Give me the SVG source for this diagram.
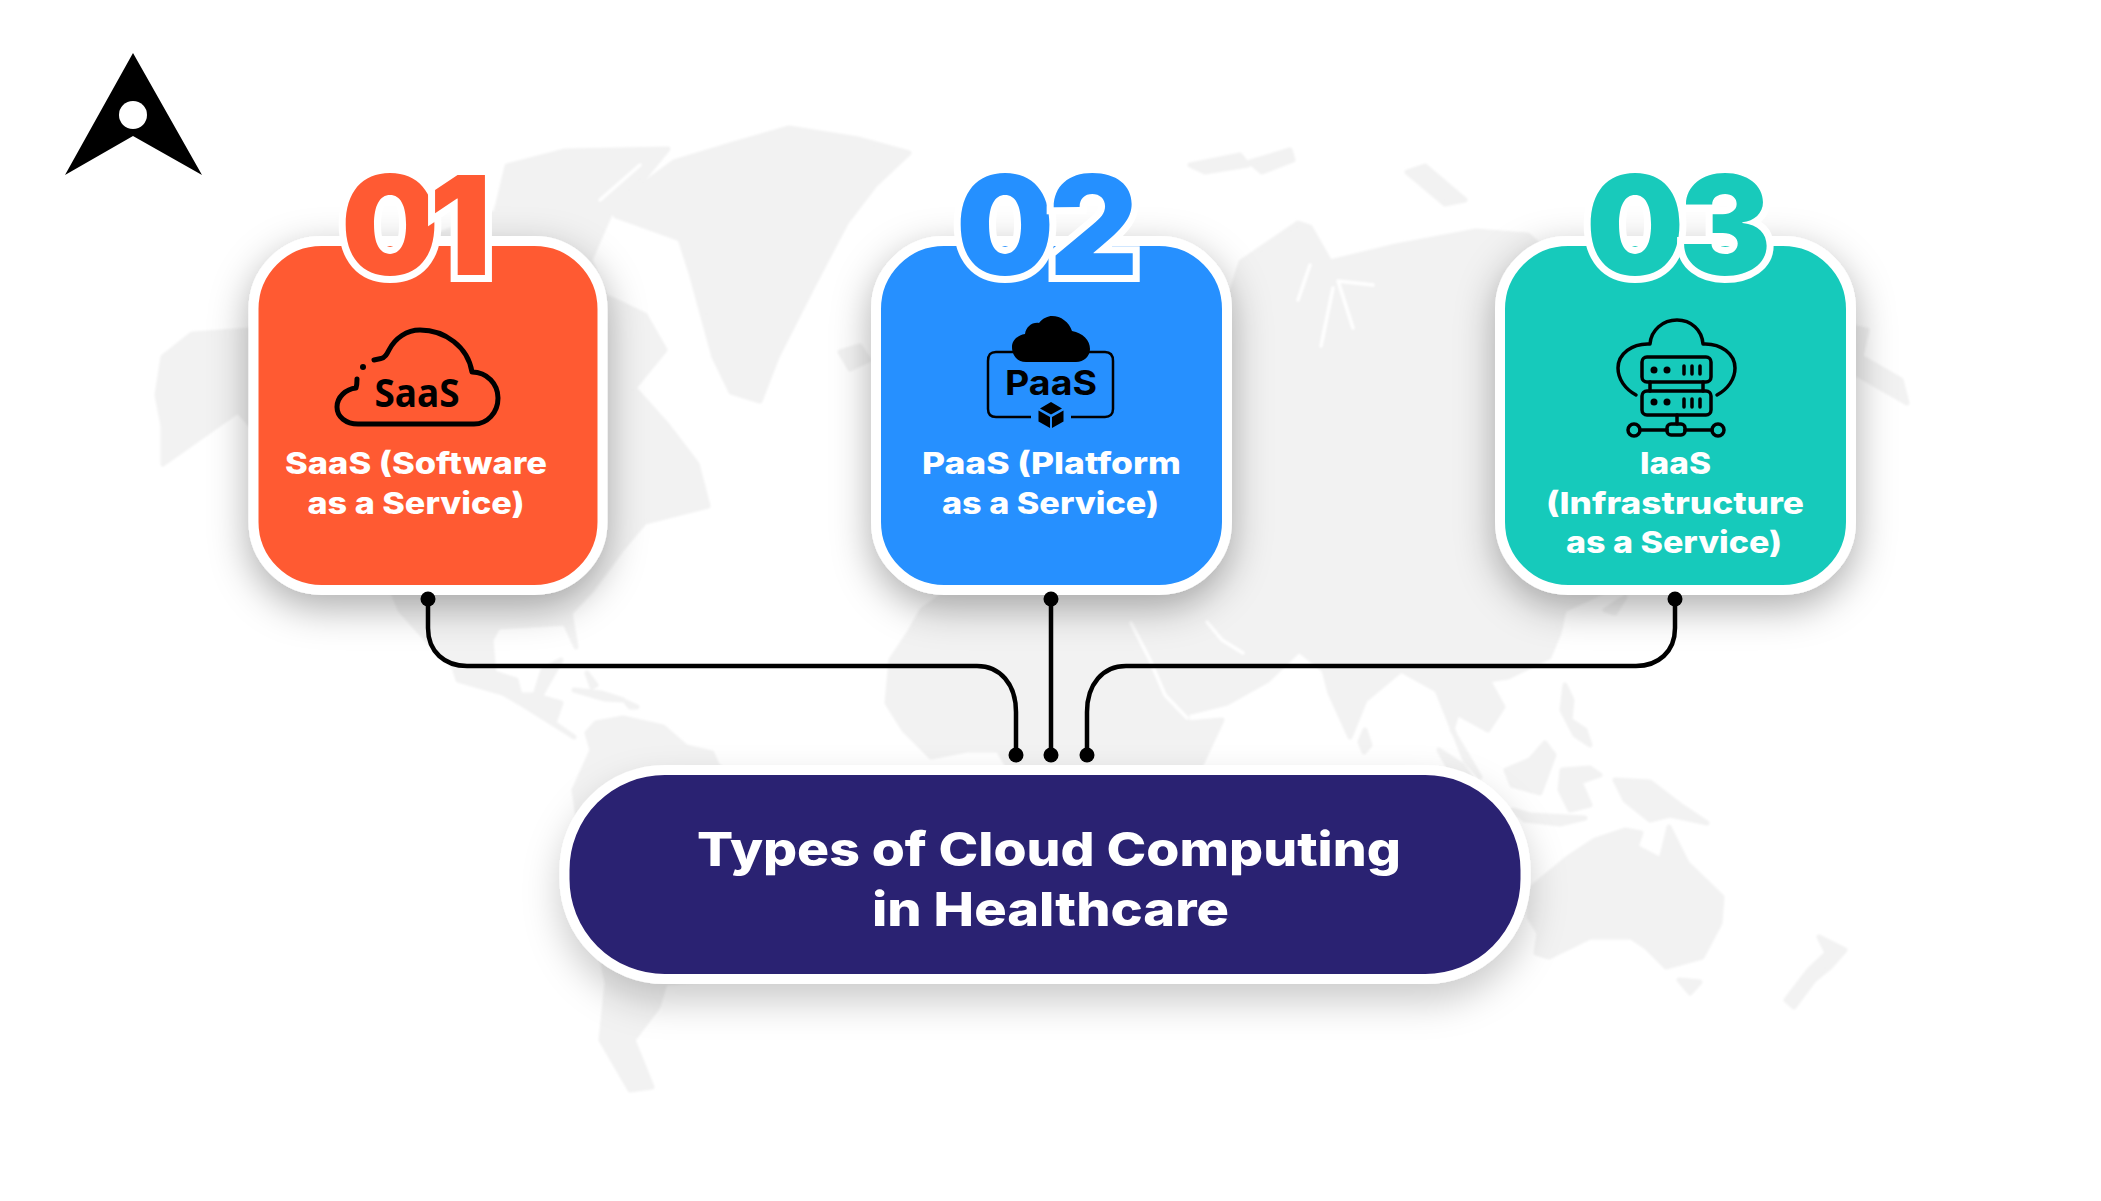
<svg xmlns="http://www.w3.org/2000/svg" width="2101" height="1201" viewBox="0 0 2101 1201">
<defs>
<filter id="sh" x="-30%" y="-30%" width="160%" height="170%"><feDropShadow dx="0" dy="13" stdDeviation="19" flood-color="#000" flood-opacity="0.32"/></filter>
<filter id="shp" x="-10%" y="-30%" width="120%" height="170%"><feDropShadow dx="0" dy="18" stdDeviation="18" flood-color="#000" flood-opacity="0.2"/></filter>
<filter id="soft" x="-2%" y="-2%" width="104%" height="104%"><feGaussianBlur stdDeviation="0.8"/></filter>
</defs>
<style>
.land{fill:#f2f2f2;stroke:#f2f2f2;stroke-width:5;stroke-linejoin:round}
.seam{fill:none;stroke:#fff;stroke-width:3.500;stroke-linejoin:round;stroke-linecap:round}
.card{stroke:#fff;stroke-width:10}
.lab{font-family:"Inter","Liberation Sans",sans-serif;font-weight:800;font-size:30px;fill:#fff;text-anchor:middle}
.num{font-family:"Inter","Liberation Sans",sans-serif;font-weight:900;font-size:138px;stroke:#fff;stroke-width:14px;paint-order:stroke;stroke-linejoin:miter}
.ttl{font-family:"Inter","Liberation Sans",sans-serif;font-weight:800;font-size:47px;fill:#fff;text-anchor:middle}
.ico{fill:none;stroke:#000;stroke-linecap:round;stroke-linejoin:round}
.wire{fill:none;stroke:#000;stroke-width:4.5}
</style>
<rect width="2101" height="1201" fill="#fff"/>
<g id="map" class="land" filter="url(#soft)">
<path d="M163 357L192 334L249 330L300 300L400 250L496 212L507 166L565 151L668 149L645 177L611 212L590 260L605 296L645 315L665 350L634 388L668 426L697 464L708 506L645 522L622 549L592 590L570 613L576 647L565 623L498 627L491 640L494 673L516 680L520 695L535 695L543 670L561 660L540 697L561 703L554 723L574 737L547 720L520 703L503 693L458 680L454 667L427 640L400 610L380 560L300 480L238 411L163 464L163 426L157 395Z"/>
<path d="M611 208L674 162L737 143L789 128L858 139L909 153L875 185L846 223L812 288L777 357L760 401L731 392L714 357L691 273L680 239L616 216Z"/>
<path d="M840 352L860 346L869 360L850 369Z"/>
<path d="M587 673L596 685L592 687ZM574 690L601 693L623 700L605 699ZM626 702L637 707L630 707Z"/>
<path d="M596 723L623 718L663 727L686 747L712 753L717 765L760 800L700 980L665 983L658 1007L633 1040L652 1087L630 1090L601 1040L607 983L590 900L574 790L592 750L587 733Z"/>
<path d="M950 400L1229 300L1241 262L1298 223L1310 227L1330 262L1396 246L1476 231L1528 235L1600 300L1852 327L1867 330L1861 357L1901 380L1907 403L1867 380L1855 373L1800 500L1564 610L1559 633L1549 657L1508 677L1488 680L1503 707L1488 730L1457 713L1452 730L1480 777L1465 760L1437 690L1401 670L1365 700L1350 737L1330 693L1324 670L1299 650L1268 680L1227 703L1187 713L1187 723L1222 720L1202 763L1180 800L1007 800L1007 765L998 750L967 750L931 757L904 730L887 703L891 660L909 633L922 610L950 590Z"/>
<path d="M1365 730L1370 745L1364 752L1360 742ZM1439 750L1462 765L1480 790L1470 790L1450 770ZM1506 770L1530 760L1545 743L1554 755L1540 793L1512 785ZM1562 770L1590 768L1600 775L1580 782L1590 805L1570 810L1560 790ZM1565 685L1572 700L1570 720L1585 730L1590 745L1575 735L1562 710ZM1513 810L1530 815L1585 818L1560 824L1525 820ZM1615 780L1650 782L1680 805L1707 823L1670 815L1650 820L1625 800ZM1605 610L1625 597L1615 613Z"/>
<path d="M1529 890L1569 857L1595 840L1625 830L1641 833L1636 847L1661 860L1669 827L1687 863L1722 897L1720 923L1702 957L1666 967L1646 947L1631 937L1590 937L1549 957L1536 953L1539 933L1529 917Z"/>
<path d="M1679 980L1700 982L1690 993ZM1819 937L1845 950L1830 967L1814 980L1794 1007L1786 1000L1809 970L1827 953Z"/>
<path d="M1190 165L1240 155L1248 165L1205 172ZM1250 162L1290 150L1293 160L1262 172ZM1407 172L1425 166L1465 200L1445 204Z"/>
<ellipse cx="711" cy="313" rx="7" ry="9"/>
<path class="seam" d="M1310 265L1298 300M1333 288L1321 346M1353 328L1338 281L1373 285M1131 623L1150 660L1165 695L1187 718M1207 622L1222 640L1243 653M640 165L600 200"/>
</g>
<g id="logo">
<path d="M133 53L202 175L133 136L65 175Z" fill="#000"/>
<circle cx="133" cy="115" r="14" fill="#fff"/>
</g>
<g id="connectors">
<path class="wire" d="M428 599V628C428 652 445 666 467 666H977C1000 666 1016 684 1016 712V755"/>
<path class="wire" d="M1051 599V755"/>
<path class="wire" d="M1675 599V628C1675 652 1658 666 1636 666H1126C1103 666 1087 684 1087 712V755"/>
</g>
<g id="node-saas">
<rect class="card" x="253.500" y="241" width="349" height="349" rx="68" fill="#ff5a33" filter="url(#sh)"/>
<text class="num" x="341 429" y="275" fill="#ff5a33">01</text>
<path class="ico" stroke-width="5" d="M374 360L381 358.5C385 358 387 354 389 350C395 338 407 330 420 330C445 330 468 347 472 372C487 372 498 384 498 398C498 413 487 424 474 424H358C346 424 337 417 337 407C337 397 346 389 356 388C357 385 357 382 357 379"/>
<circle cx="363" cy="367" r="3" fill="#000"/>
<text x="417" y="407" text-anchor="middle" textLength="85" lengthAdjust="spacingAndGlyphs" style="font-family:'Noto Sans',sans-serif;font-weight:700;font-size:40px" fill="#000">SaaS</text>
<text class="lab" x="416" y="474" textLength="262" lengthAdjust="spacingAndGlyphs">SaaS (Software</text>
<text class="lab" x="416" y="514" textLength="217" lengthAdjust="spacingAndGlyphs">as a Service)</text>
</g>
<g id="node-paas">
<rect class="card" x="876" y="241" width="351" height="349" rx="68" fill="#2590ff" filter="url(#sh)"/>
<text class="num" x="956 1049" y="275" fill="#2590ff">02</text>
<path fill="none" stroke="#000" stroke-width="2.5" d="M1031 417H996C990 417 988 414 988 409V361C988 355 990 352 996 352H1105C1110 352 1113 355 1113 361V409C1113 414 1110 417 1105 417H1071"/>
<path fill="#000" d="M1026 362C1017 362 1012 355 1012 347C1012 340 1018 335 1025 334C1026 327 1032 322 1039 323C1043 318 1048 316 1052 316C1061 316 1069 322 1072 331C1083 333 1090 340 1090 349C1090 356 1084 362 1076 362Z"/>
<text x="1051" y="395" text-anchor="middle" textLength="92" lengthAdjust="spacingAndGlyphs" style="font-family:'Inter',sans-serif;font-weight:700;font-size:34px" fill="#000">PaaS</text>
<path fill="#000" d="M1051 402L1062 408.500L1051 414.500L1040 408.500ZM1038.500 410.500L1050 417V428L1038.500 421.500ZM1063.500 410.500L1052 417V428L1063.500 421.500Z"/>
<text class="lab" x="1051.500" y="474" textLength="259" lengthAdjust="spacingAndGlyphs">PaaS (Platform</text>
<text class="lab" x="1050.500" y="514" textLength="217" lengthAdjust="spacingAndGlyphs">as a Service)</text>
</g>
<g id="node-iaas">
<rect class="card" x="1500" y="241" width="351" height="349" rx="68" fill="#18cabb" filter="url(#sh)"/>
<text class="num" x="1586 1679" y="275" fill="#18cabb">03</text>
<g class="ico" stroke-width="3.500">
<path d="M1636 395C1625 389 1618 379 1618 368C1618 354 1632 343 1650 344C1651 330 1663 320 1677 320C1691 320 1702 330 1703 344C1721 343 1735 354 1735 368C1735 379 1728 389 1717 395"/>
<rect x="1642" y="357" width="69" height="25" rx="5"/>
<rect x="1642" y="391" width="69" height="24" rx="5"/>
<path d="M1650 382V391M1703 382V391M1677 415V424M1640 430H1667M1685 430H1712M1684 366V374M1692 366V374M1700 366V374M1684 399V407M1692 399V407M1700 399V407"/>
<rect x="1667" y="424" width="18" height="11" rx="4"/>
<circle cx="1634" cy="430" r="6"/>
<circle cx="1718" cy="430" r="6"/>
</g>
<g fill="#000"><circle cx="1654" cy="370" r="3.500"/><circle cx="1667" cy="370" r="3.500"/><circle cx="1654" cy="402" r="3.500"/><circle cx="1667" cy="402" r="3.500"/></g>
<text class="lab" x="1675.500" y="474" textLength="71" lengthAdjust="spacingAndGlyphs">IaaS</text>
<text class="lab" x="1675" y="514" textLength="258" lengthAdjust="spacingAndGlyphs">(Infrastructure</text>
<text class="lab" x="1674" y="553" textLength="216" lengthAdjust="spacingAndGlyphs">as a Service)</text>
</g>
<g id="node-title">
<rect x="564.500" y="770" width="961" height="209" rx="100" fill="#2c2072" stroke="#fff" stroke-width="10" filter="url(#shp)"/>
<text class="ttl" x="1049" y="866" textLength="704" lengthAdjust="spacingAndGlyphs">Types of Cloud Computing</text>
<text class="ttl" x="1050.500" y="926" textLength="357" lengthAdjust="spacingAndGlyphs">in Healthcare</text>
</g>
<g id="connector-dots" fill="#000">
<circle cx="428" cy="599" r="7.500"/><circle cx="1051" cy="599" r="7.500"/><circle cx="1675" cy="599" r="7.500"/>
<circle cx="1016" cy="755" r="7.500"/><circle cx="1051" cy="755" r="7.500"/><circle cx="1087" cy="755" r="7.500"/>
</g>
</svg>
